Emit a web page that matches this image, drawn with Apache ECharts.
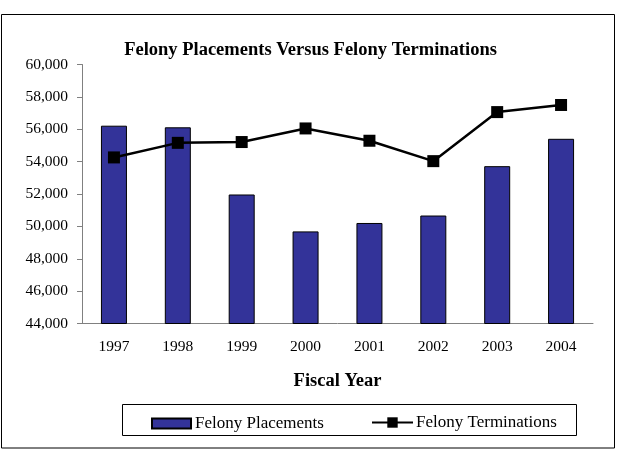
<!DOCTYPE html>
<html>
<head>
<meta charset="utf-8">
<script src="https://cdn.jsdelivr.net/npm/echarts@6/dist/echarts.min.js"></script>
<style>
  html, body { margin: 0; padding: 0; background: #fff; }
  #main { width: 621px; height: 454px; }
</style>
</head>
<body>
<div id="main"></div>
<script>
// data
var years = ['1997', '1998', '1999', '2000', '2001', '2002', '2003', '2004'];
var placements = [56220, 56120, 51970, 49690, 50210, 50670, 53720, 55410];
var terminations = [54260, 55160, 55210, 56050, 55290, 54030, 57060, 57500];
var yTicks = [44000, 46000, 48000, 50000, 52000, 54000, 56000, 58000, 60000];

var serif = '"Liberation Serif", "Times New Roman", serif';
var myChart = echarts.init(document.getElementById('main'));

var option = {
    backgroundColor: '#fff',
    animation: false,
    title: {
        text: 'Felony Placements Versus Felony Terminations',
        left: 'center',
        top: 36,
        textStyle: { fontFamily: serif, fontSize: 18.5, fontWeight: 'bold', color: '#000' }
    },
    graphic: [
        // outer frame
        { type: 'rect', shape: { x: 1.5, y: 14.5, width: 613, height: 433.5 },
          style: { fill: 'none', stroke: '#000', lineWidth: 1 }, z: -1 },
        // legend box
        { type: 'rect', shape: { x: 122.5, y: 404.5, width: 454, height: 31 },
          style: { fill: 'none', stroke: '#000', lineWidth: 1 }, z: -1 }
    ],
    // two legends so each key keeps its own size
    legend: [
        {
            left: 146,
            top: 410,
            itemWidth: 39,
            itemHeight: 10,
            icon: 'rect',
            textStyle: { fontFamily: serif, fontSize: 17, color: '#000', padding: [0, 0, 0, -1] },
            data: ['Felony Placements']
        },
        {
            left: 366,
            top: 409,
            itemWidth: 41,
            itemHeight: 13,
            textStyle: { fontFamily: serif, fontSize: 17, color: '#000', padding: [0, 0, 0, -2] },
            data: ['Felony Terminations']
        }
    ],
    grid: { left: 82, right: 28, top: 64.5, bottom: 130.5, containLabel: false },
    xAxis: {
        type: 'category',
        data: years,
        name: 'Fiscal Year',
        nameLocation: 'middle',
        nameGap: 48,
        nameTextStyle: { fontFamily: serif, fontSize: 18.5, fontWeight: 'bold', color: '#000' },
        axisLine: { lineStyle: { color: '#808080', width: 1 } },
        axisTick: { alignWithLabel: false, length: 5, lineStyle: { color: '#808080' } },
        axisLabel: { fontFamily: serif, fontSize: 15.5, color: '#000', margin: 15 }
    },
    yAxis: {
        type: 'value',
        min: yTicks[0],
        max: yTicks[yTicks.length - 1],
        interval: 2000,
        axisLine: { show: true, lineStyle: { color: '#808080', width: 1 } },
        axisTick: { show: true, length: 5, lineStyle: { color: '#808080' } },
        splitLine: { show: false },
        axisLabel: {
            fontFamily: serif, fontSize: 15.5, color: '#000', margin: 14,
            formatter: function (v) { return v.toLocaleString('en-US'); }
        }
    },
    series: [
        {
            name: 'Felony Placements',
            type: 'bar',
            data: placements,
            barWidth: 26,
            itemStyle: { color: '#333399', borderColor: '#000', borderWidth: 1 }
        },
        {
            name: 'Felony Terminations',
            type: 'line',
            data: terminations,
            symbol: 'rect',
            symbolSize: 12,
            lineStyle: { color: '#000', width: 2.5 },
            itemStyle: { color: '#000' }
        }
    ]
};

myChart.setOption(option);
</script>
</body>
</html>
